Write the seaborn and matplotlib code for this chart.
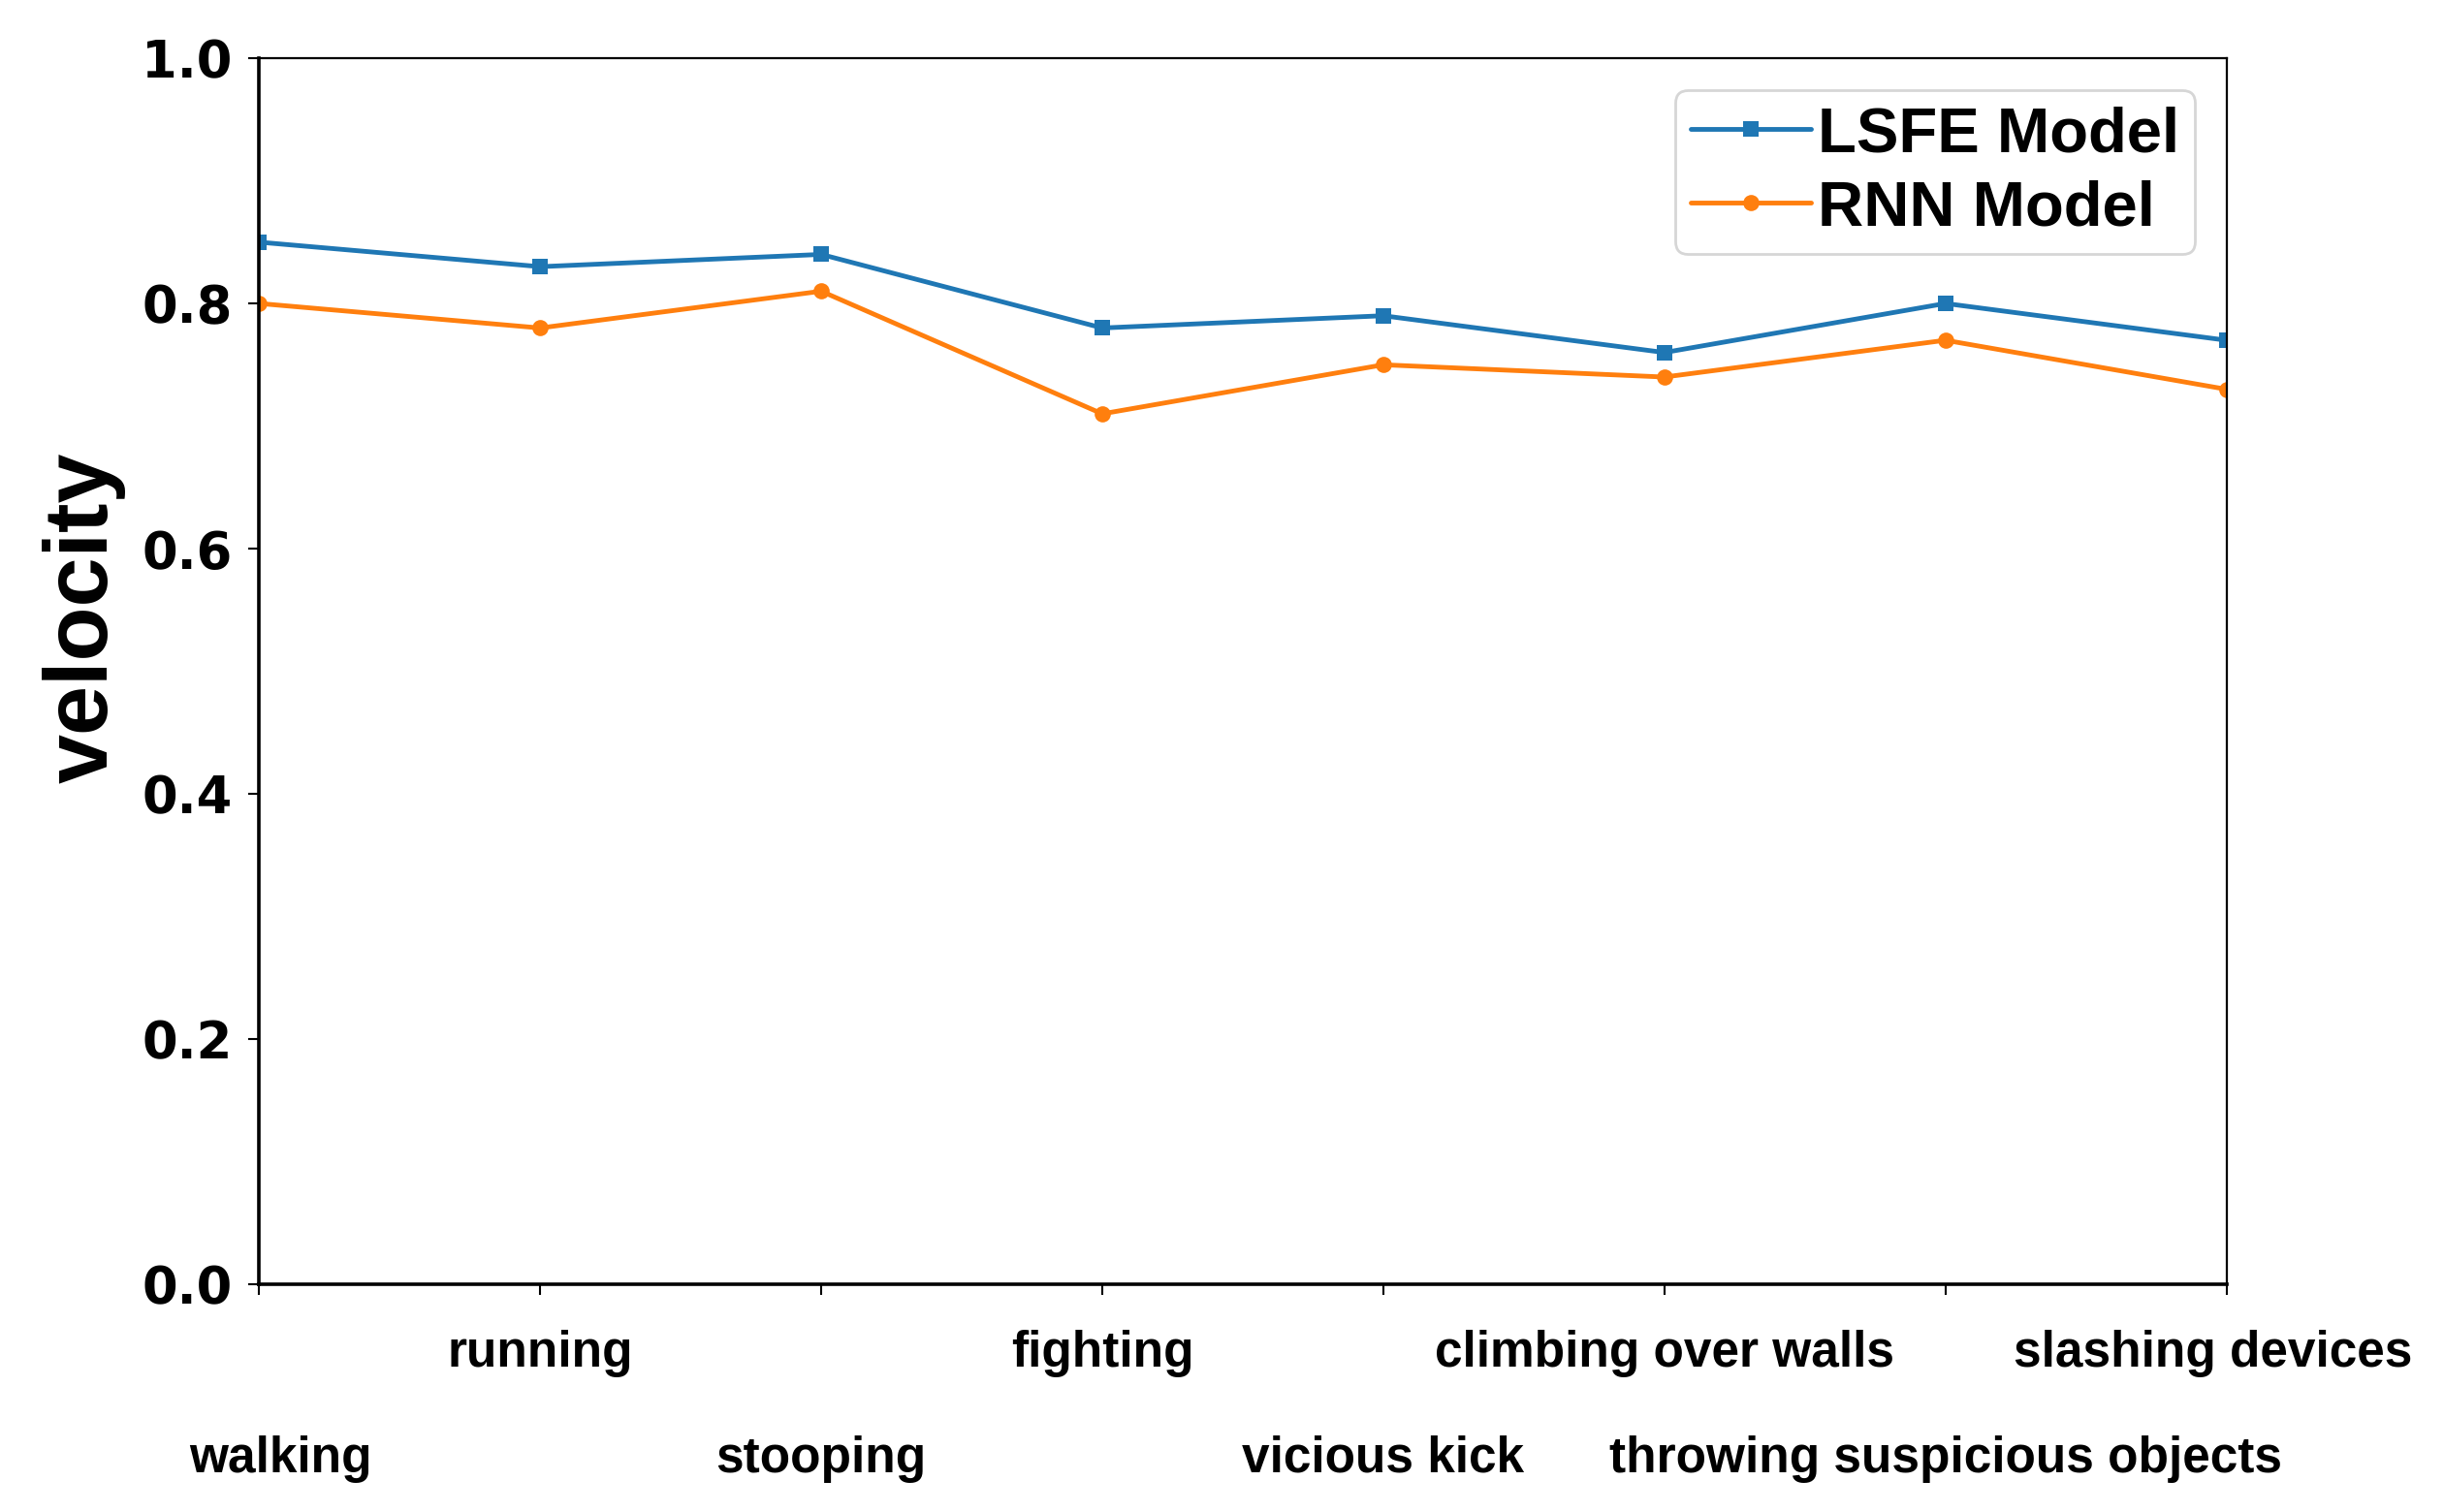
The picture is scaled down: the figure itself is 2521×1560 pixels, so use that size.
import pandas as pd
import matplotlib
matplotlib.use('Agg')
import matplotlib.pyplot as plt
import matplotlib.transforms as mtransforms
import seaborn as sns

# Chart data
activities = ['walking', 'running', 'stooping', 'fighting', 'vicious kick',
              'climbing over walls', 'throwing suspicious objects', 'slashing devices']
lsfe_values = [0.85, 0.83, 0.84, 0.78, 0.79, 0.76, 0.80, 0.77]
rnn_values = [0.80, 0.78, 0.81, 0.71, 0.75, 0.74, 0.77, 0.73]
y_ticks = [0.0, 0.2, 0.4, 0.6, 0.8, 1.0]

df = pd.DataFrame({
    'pos': list(range(len(activities))) * 2,
    'velocity': lsfe_values + rnn_values,
    'model': ['LSFE Model'] * len(activities) + ['RNN Model'] * len(activities),
})

sns.set_style('white')
plt.rcParams['font.family'] = ['Liberation Sans', 'DejaVu Sans']
plt.rcParams['text.color'] = 'black'
plt.rcParams['axes.labelcolor'] = 'black'
plt.rcParams['xtick.color'] = 'black'
plt.rcParams['ytick.color'] = 'black'

fig = plt.figure(figsize=(25.21, 15.6), dpi=100)
ax = fig.add_axes([0.106, 0.1505, 0.805, 0.811])

sns.lineplot(data=df, x='pos', y='velocity', hue='model', style='model',
             palette={'LSFE Model': '#1f77b4', 'RNN Model': '#ff7f0e'},
             markers={'LSFE Model': 's', 'RNN Model': 'o'}, dashes=False,
             linewidth=3.5, markersize=12, markeredgewidth=0, ax=ax)

ax.set_xlim(0, len(activities) - 1)
ax.set_ylim(0, 1)
ax.set_xticks(range(len(activities)))
ax.set_xticklabels(activities, fontsize=37, fontweight='bold')
ax.set_yticks(y_ticks)
ax.set_yticklabels([f'{t:.1f}' for t in y_ticks], fontsize=38, fontweight='bold',
                   family='DejaVu Sans')
ax.tick_params(axis='x', direction='out', length=8, width=1.5, bottom=True)
ax.tick_params(axis='y', direction='out', length=8, width=1.5, pad=12, left=True)

# staggered labels: even positions go on a lower row
for i, tick in enumerate(ax.xaxis.get_major_ticks()):
    tick.set_pad(104 if i % 2 == 0 else 26)

# small horizontal nudges of the end labels
labs = ax.get_xticklabels()
labs[0].set_transform(labs[0].get_transform() +
                      mtransforms.ScaledTranslation(0.22, 0, fig.dpi_scale_trans))
labs[-1].set_transform(labs[-1].get_transform() +
                       mtransforms.ScaledTranslation(-0.14, 0, fig.dpi_scale_trans))

ax.set_xlabel('')
ax.set_ylabel('velocity', fontsize=66, fontweight='bold')
ax.yaxis.set_label_coords(-0.068, 0.544)

for side in ['top', 'right']:
    ax.spines[side].set_linewidth(1.6)
    ax.spines[side].set_color('black')
for side in ['left', 'bottom']:
    ax.spines[side].set_linewidth(2.6)
    ax.spines[side].set_color('black')

leg = ax.legend(loc='upper right', prop={'size': 47, 'weight': 'bold'},
                frameon=True, handlelength=1.9, handletextpad=0.1,
                borderaxespad=0.5, borderpad=0.25, labelspacing=0.25)
leg.get_frame().set_edgecolor('#cccccc')
leg.get_frame().set_linewidth(2)

plt.savefig('out.png', dpi=100)
plt.close()
